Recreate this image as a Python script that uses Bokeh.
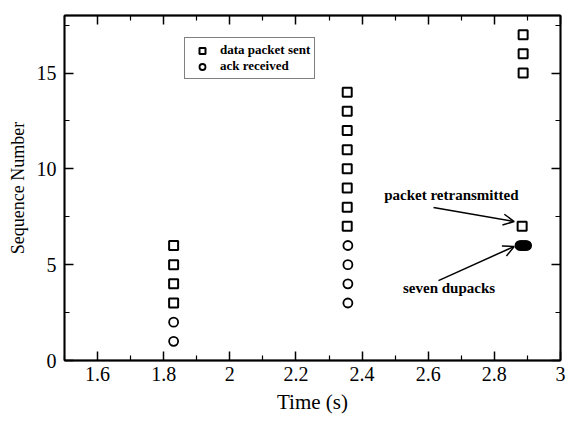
from bokeh.plotting import figure
from bokeh.models import (Legend, LegendItem, LinearAxis, FixedTicker, CustomJSTickFormatter,
                          Arrow, OpenHead, Range1d, Label, ColumnDataSource)
from bokeh.embed import file_html
from bokeh.resources import INLINE

# ---- data ----
sent_time = [1.830, 1.830, 1.830, 1.830,
             2.355, 2.355, 2.355, 2.355, 2.355, 2.355, 2.355, 2.355,
             2.887, 2.887, 2.887]
sent_seq = [3, 4, 5, 6,
            7, 8, 9, 10, 11, 12, 13, 14,
            15, 16, 17]
retx_time = [2.884]
retx_seq = [7]
ack_time = [1.830, 1.830, 2.357, 2.357, 2.357, 2.357]
ack_seq = [1, 2, 3, 4, 5, 6]
dupack_time = [2.877, 2.8805, 2.884, 2.8875, 2.891, 2.8945, 2.898]
dupack_seq = [6, 6, 6, 6, 6, 6, 6]

x_ticks = [1.6, 1.8, 2, 2.2, 2.4, 2.6, 2.8, 3]
x_minor = [1.5, 1.7, 1.9, 2.1, 2.3, 2.5, 2.7, 2.9]
y_ticks = [0, 5, 10, 15]
y_minor = [2.5, 7.5, 12.5, 17.5]

FONT = "Liberation Serif"

p = figure(width=571, height=422, x_range=Range1d(1.5, 3), y_range=Range1d(0, 18),
           output_backend="svg", toolbar_location=None,
           min_border_left=64, min_border_right=11, min_border_top=15, min_border_bottom=62,
           x_axis_label="Time (s)", y_axis_label="Sequence Number")
p.grid.visible = False
p.outline_line_color = "black"
p.outline_line_width = 1.5
p.background_fill_color = "white"
p.border_fill_color = "white"

fmt = CustomJSTickFormatter(code="return tick.toString();")
blank = CustomJSTickFormatter(code="return '';")


def style_axis(ax, ticks, minor, labelled=True):
    ax.ticker = FixedTicker(ticks=ticks, minor_ticks=minor)
    ax.axis_line_color = "black"
    ax.axis_line_width = 1.8
    ax.major_tick_line_color = "black"
    ax.major_tick_line_width = 1.5
    ax.minor_tick_line_color = "black"
    ax.minor_tick_line_width = 1.2
    ax.major_tick_in = 9
    ax.major_tick_out = 0
    ax.minor_tick_in = 5
    ax.minor_tick_out = 0
    ax.major_label_text_font = FONT
    ax.major_label_text_font_size = "20px"
    ax.major_label_text_color = "black"
    ax.axis_label_text_font = FONT
    ax.axis_label_text_font_style = "normal"
    ax.axis_label_text_color = "black"
    if labelled:
        ax.formatter = fmt
    else:
        ax.formatter = blank
        ax.major_label_standoff = 0


xa = p.xaxis[0]
style_axis(xa, x_ticks, x_minor)
xa.major_label_standoff = 6
xa.axis_label_standoff = 6
xa.axis_label_text_font_size = "21px"

ya = p.yaxis[0]
style_axis(ya, y_ticks, y_minor)
ya.major_label_standoff = 8
ya.axis_label_standoff = 6
ya.axis_label_text_font_size = "18px"

top = LinearAxis()
style_axis(top, x_ticks, x_minor, labelled=False)
p.add_layout(top, "above")
right = LinearAxis()
style_axis(right, y_ticks, y_minor, labelled=False)
p.add_layout(right, "right")

# ---- marks ----
sent_r = p.scatter(sent_time, sent_seq, marker="square", size=9, fill_color=None,
                   line_color="black", line_width=2)
p.scatter(retx_time, retx_seq, marker="square", size=9, fill_color=None,
          line_color="black", line_width=2)
ack_r = p.scatter(ack_time, ack_seq, marker="circle", size=9, fill_color=None,
                  line_color="black", line_width=1.8)
p.scatter(dupack_time, dupack_seq, marker="circle", size=9, fill_color="black",
          line_color="black", line_width=1.5)

# ---- annotations ----
p.add_layout(Arrow(end=OpenHead(size=11, line_width=1.5, line_color="black"),
                   x_start=2.616, y_start=7.98, x_end=2.860, y_end=7.25,
                   line_width=1.5, line_color="black"))
p.add_layout(Arrow(end=OpenHead(size=11, line_width=1.5, line_color="black"),
                   x_start=2.631, y_start=4.17, x_end=2.860, y_end=5.95,
                   line_width=1.5, line_color="black"))
p.add_layout(Label(x=2.670, y=8.61, text="packet retransmitted", text_align="center",
                   text_baseline="middle", text_font=FONT, text_font_size="15px",
                   text_font_style="bold", text_color="black"))
p.add_layout(Label(x=2.663, y=3.76, text="seven dupacks", text_align="center",
                   text_baseline="middle", text_font=FONT, text_font_size="15px",
                   text_font_style="bold", text_color="black"))

legend = Legend(items=[LegendItem(label="data packet sent", renderers=[sent_r]),
                       LegendItem(label="ack received", renderers=[ack_r])],
                location=(120, 281), orientation="vertical",
                padding=4, spacing=0, margin=0,
                glyph_width=26, glyph_height=15, label_height=15, label_standoff=5,
                label_text_font=FONT, label_text_font_size="13px",
                label_text_font_style="bold", label_text_color="black",
                border_line_color="black", border_line_width=1.5,
                background_fill_color="white", background_fill_alpha=1)
p.add_layout(legend)

open("out.html", "w").write(file_html(p, INLINE))
